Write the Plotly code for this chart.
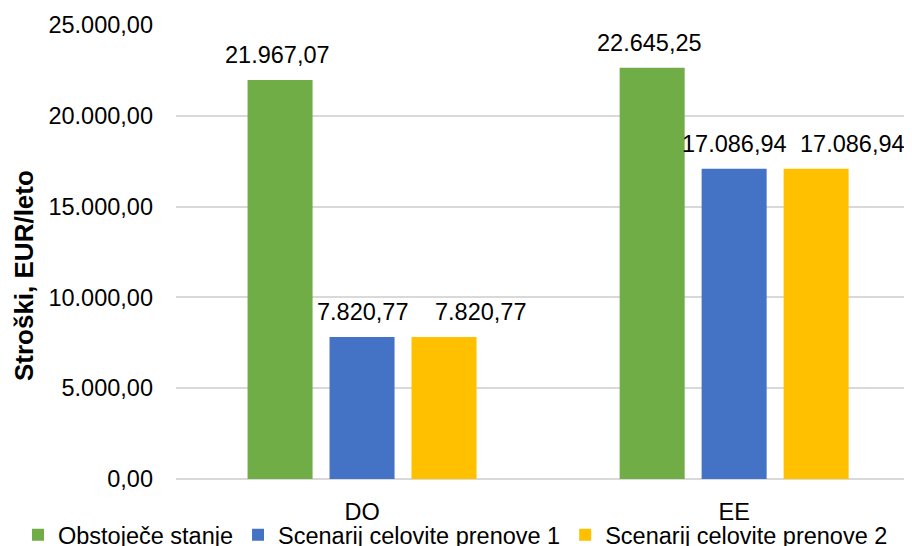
import plotly.graph_objects as go

CATEGORIES = ["DO", "EE"]
SERIES_NAMES = ["Obstoječe stanje", "Scenarij celovite prenove 1", "Scenarij celovite prenove 2"]
OBSTOJECE = [21967.07, 22645.25]
SCENARIJ_1 = [7820.77, 17086.94]
SCENARIJ_2 = [7820.77, 17086.94]
Y_TICKS = [0, 5000, 10000, 15000, 20000, 25000]

COLORS = ["#70AD47", "#4472C4", "#FFC000"]
FONT = "Arial, Liberation Sans, sans-serif"
FONT_SIZE = 23.5

# plot geometry (px); the page body adds an 8px offset
MARGIN_L, MARGIN_R, MARGIN_T, MARGIN_B = 168, 0, 17, 67
CAT_PX = 372
BARGAP = 0.339
SLOT_PX = (1 - BARGAP) / 3 * CAT_PX
LABEL_NUDGE = [-3, 0, 36]  # label shifts like in the source chart


def eu(v):
    return f"{v:,.2f}".replace(",", "X").replace(".", ",").replace("X", ".")


fig = go.Figure()
series = [OBSTOJECE, SCENARIJ_1, SCENARIJ_2]
for name, vals, color in zip(SERIES_NAMES, series, COLORS):
    fig.add_trace(
        go.Bar(
            x=CATEGORIES,
            y=vals,
            name=name,
            marker={"color": color, "line": {"width": 0}},
        )
    )

# data labels above bars
for i, vals in enumerate(series):
    for cat, v in zip(CATEGORIES, vals):
        fig.add_annotation(
            x=cat,
            y=v,
            text=eu(v),
            showarrow=False,
            xanchor="center",
            yanchor="bottom",
            xshift=(i - 1) * SLOT_PX + LABEL_NUDGE[i],
            yshift=10,
            font={"size": FONT_SIZE, "color": "#000000"},
        )

# y-axis title
fig.add_annotation(
    xref="paper",
    yref="paper",
    x=0,
    y=0.447,
    xanchor="center",
    yanchor="middle",
    xshift=-152,
    text="<b>Stroški, EUR/leto</b>",
    textangle=-90,
    showarrow=False,
    font={"size": 26, "color": "#000000"},
)

fig.update_layout(
    width=904,
    height=538,
    paper_bgcolor="white",
    plot_bgcolor="white",
    font={"family": FONT, "size": FONT_SIZE, "color": "#000000"},
    margin={"l": MARGIN_L, "r": MARGIN_R, "t": MARGIN_T, "b": MARGIN_B, "autoexpand": False},
    barmode="group",
    bargap=BARGAP,
    bargroupgap=0.207,
    separators=",.",
    legend={
        "orientation": "h",
        "x": -0.2147,
        "xanchor": "left",
        "y": -0.1233,
        "yanchor": "middle",
        "bgcolor": "rgba(0,0,0,0)",
        "font": {"size": FONT_SIZE},
        "itemwidth": 30,
        "tracegroupgap": 0,
    },
    xaxis={
        "range": [-0.5, 1.478],
        "showgrid": False,
        "showline": False,
        "ticks": "",
        "ticklabelstandoff": 16,
    },
    yaxis={
        "range": [0, 25000],
        "tickvals": Y_TICKS,
        "tickformat": ",.2f",
        "showgrid": True,
        "gridcolor": "#D9D9D9",
        "gridwidth": 1.5,
        "zeroline": True,
        "zerolinecolor": "#D9D9D9",
        "zerolinewidth": 1.5,
        "ticks": "",
        "ticklabelstandoff": 22,
    },
)

fig.write_html("out.html")
